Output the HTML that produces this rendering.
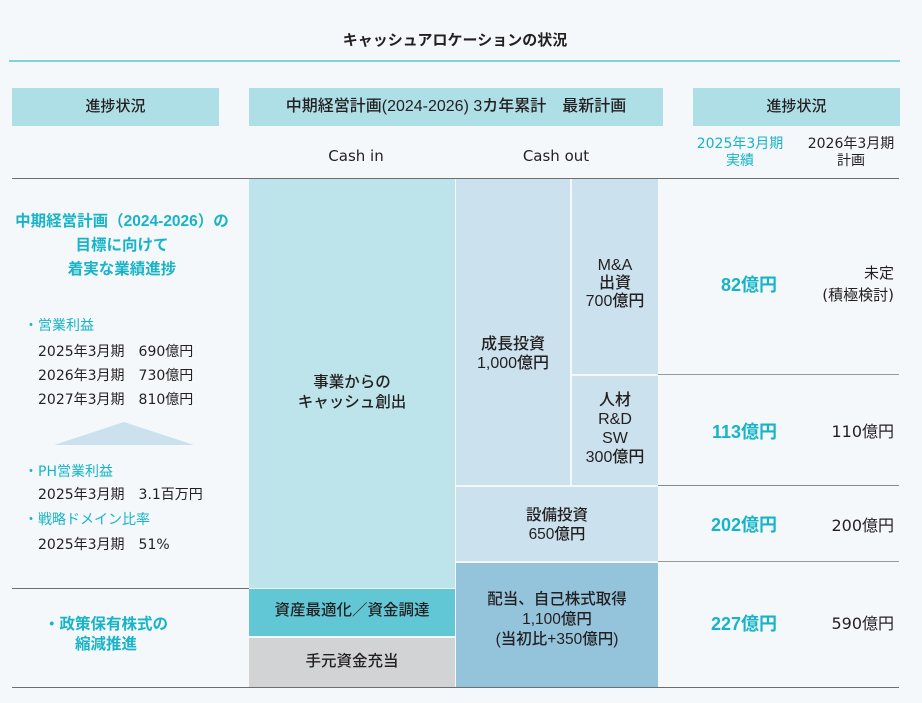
<!DOCTYPE html>
<html><head><meta charset="utf-8">
<style>
html,body{margin:0;padding:0}
body{width:922px;height:703px;background:#f5f8fb;position:relative;overflow:hidden;font-family:"DejaVu Sans","Noto Sans CJK JP",sans-serif;color:#231f20}
.r{position:absolute}
.t{position:absolute;white-space:nowrap;text-align:center;font-size:15.5px;line-height:20px;font-weight:400}
.b{font-family:"Liberation Sans","Noto Sans CJK JP",sans-serif;font-weight:500}
.bb{font-family:"Liberation Sans","Noto Sans CJK JP",sans-serif;font-weight:700}
.c{color:#17b4c8}
.l{text-align:left}
.rt{text-align:right}
</style></head><body>

<!-- title -->
<div class="t b" style="left:255px;width:400px;top:31px;font-size:15px;font-weight:600">キャッシュアロケーションの状況</div>
<div class="r" style="left:9px;top:60px;width:891px;height:2px;background:#80d4d9"></div>

<!-- header boxes -->
<div class="r" style="left:12px;top:88px;width:207px;height:38px;background:#aedfe6"></div>
<div class="r" style="left:249px;top:88px;width:414px;height:38px;background:#aedfe6"></div>
<div class="r" style="left:693px;top:88px;width:207px;height:38px;background:#aedfe6"></div>
<div class="t b" style="left:12px;width:207px;top:97px;font-size:15px">進捗状況</div>
<div class="t b" style="left:249px;width:414px;top:97px;font-size:16px">中期経営計画(2024-2026) 3カ年累計　最新計画</div>
<div class="t b" style="left:693px;width:207px;top:97px;font-size:15px">進捗状況</div>

<div class="t" style="left:306px;width:100px;top:146px;font-size:15px">Cash in</div>
<div class="t" style="left:506px;width:100px;top:146px;font-size:15px">Cash out</div>
<div class="t c" style="left:690px;width:100px;top:136px;font-size:14px;line-height:17px">2025年3月期<br>実績</div>
<div class="t" style="left:801px;width:100px;top:136px;font-size:14px;line-height:17px">2026年3月期<br>計画</div>

<!-- blocks -->
<div class="r" style="left:249px;top:179px;width:206px;height:409px;background:#bce4ea"></div>
<div class="r" style="left:249px;top:589px;width:206px;height:47px;background:#62c7d5"></div>
<div class="r" style="left:249px;top:638px;width:206px;height:49px;background:#d2d3d5"></div>
<div class="r" style="left:456px;top:179px;width:114px;height:306px;background:#cbe1ed"></div>
<div class="r" style="left:572px;top:179px;width:86px;height:195px;background:#cbe1ed"></div>
<div class="r" style="left:572px;top:376px;width:86px;height:109px;background:#cbe1ed"></div>
<div class="r" style="left:456px;top:487px;width:202px;height:74px;background:#cbe1ed"></div>
<div class="r" style="left:456px;top:563px;width:202px;height:124px;background:#93c4dc"></div>

<!-- lines -->
<div class="r" style="left:12px;top:178px;width:887px;height:1px;background:#6e6e6e"></div>
<div class="r" style="left:12px;top:588px;width:237px;height:1px;background:#6e6e6e"></div>
<div class="r" style="left:658px;top:374px;width:241px;height:1px;background:#9a9a9a"></div>
<div class="r" style="left:658px;top:485px;width:241px;height:1px;background:#8a8a8a"></div>
<div class="r" style="left:658px;top:561px;width:241px;height:1px;background:#9a9a9a"></div>
<div class="r" style="left:12px;top:687px;width:887px;height:1px;background:#6e6e6e"></div>

<!-- block text -->
<div class="t b" style="left:249px;width:206px;top:373px">事業からの<br>キャッシュ創出</div>
<div class="t b" style="left:456px;width:114px;top:335px;line-height:19px;font-size:16px">成長投資<br>1,000億円</div>
<div class="t b" style="left:572px;width:86px;top:257px;line-height:18px;font-size:16px">M&amp;A<br>出資<br>700億円</div>
<div class="t b" style="left:572px;width:86px;top:391px;line-height:19px;font-size:16px">人材<br>R&amp;D<br>SW<br>300億円</div>
<div class="t b" style="left:456px;width:202px;top:506px;line-height:19px">設備投資<br>650億円</div>
<div class="t b" style="left:456px;width:202px;top:590px;line-height:20px">配当、自己株式取得<br>1,100億円<br>(当初比+350億円)</div>
<div class="t b" style="left:249px;width:206px;top:601px">資産最適化／資金調達</div>
<div class="t b" style="left:249px;width:206px;top:652px">手元資金充当</div>

<!-- right values -->
<div class="t c rt bb" style="left:677px;width:100px;top:274px;font-size:18px;line-height:22px">82億円</div>
<div class="t rt" style="left:774px;width:120px;top:262px;line-height:22px;font-size:15px">未定<br>(積極検討)</div>
<div class="t c rt bb" style="left:677px;width:100px;top:421px;font-size:18px;line-height:22px">113億円</div>
<div class="t rt" style="left:794px;width:100px;top:422px;font-size:16px">110億円</div>
<div class="t c rt bb" style="left:677px;width:100px;top:514px;font-size:18px;line-height:22px">202億円</div>
<div class="t rt" style="left:794px;width:100px;top:516px;font-size:16px">200億円</div>
<div class="t c rt bb" style="left:677px;width:100px;top:613px;font-size:18px;line-height:22px">227億円</div>
<div class="t rt" style="left:794px;width:100px;top:614px;font-size:16px">590億円</div>

<!-- left column -->
<div class="t c bb" style="left:2px;width:240px;top:210px;line-height:24px;font-size:15.5px">中期経営計画（2024-2026）の<br>目標に向けて<br>着実な業績進捗</div>

<div class="t c l" style="left:24px;top:316px;font-size:14px">・営業利益</div>
<div class="t l" style="left:38px;top:340px;font-size:14px;line-height:24px">2025年3月期　690億円<br>2026年3月期　730億円<br>2027年3月期　810億円</div>

<svg class="r" style="left:0;top:0" width="250" height="460"><polygon points="54,445 124,422 194,445" fill="#cbe1ed"/></svg>

<div class="t c l" style="left:24px;top:462px;font-size:14px">・PH営業利益</div>
<div class="t l" style="left:38px;top:485px;font-size:14px">2025年3月期　3.1百万円</div>
<div class="t c l" style="left:24px;top:510px;font-size:14px">・戦略ドメイン比率</div>
<div class="t l" style="left:38px;top:535px;font-size:14px">2025年3月期　51%</div>

<div class="t c l bb" style="left:44px;top:615px;font-size:15.5px">・政策保有株式の</div>
<div class="t c l bb" style="left:75px;top:635px;font-size:15.5px">縮減推進</div>

</body></html>
